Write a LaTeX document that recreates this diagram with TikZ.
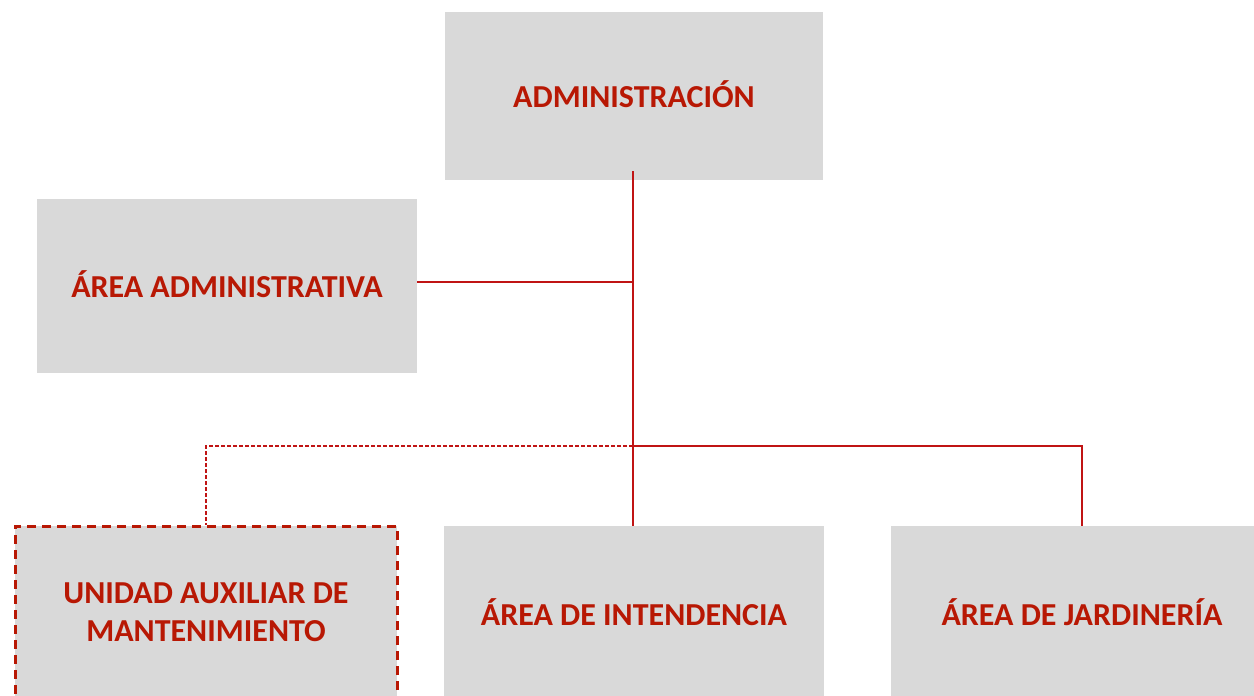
\documentclass[tikz,border=0pt]{standalone}
\usepackage{fontspec}
\setmainfont{Carlito}
\definecolor{boxgray}{RGB}{217,217,217}
\definecolor{darkred}{RGB}{184,24,4}
\definecolor{linered}{RGB}{192,20,20}
\begin{document}
\begin{tikzpicture}[x=1pt,y=-1pt,
  box/.style={fill=boxgray, draw=none, inner sep=0pt, align=center,
    text=darkred, font=\fontsize{32}{38}\selectfont\bfseries},
  conn/.style={draw=linered, line width=1.5pt},
  dconn/.style={draw=linered, line width=1.3pt, dash pattern=on 4pt off 2pt},
  dbox/.style={draw=darkred, line width=3pt, dash pattern=on 9pt off 6pt}]
\useasboundingbox (0,0) rectangle (1254,696);
\node[box, text depth=4pt, minimum width=378pt, minimum height=168pt] (admin) at (634,96) {ADMINISTRACIÓN};
\node[box, text depth=4pt, minimum width=380pt, minimum height=174pt] (area) at (227,286) {ÁREA ADMINISTRATIVA};
\node[box, dbox, minimum width=382pt, minimum height=172pt] (unidad) at (206,612) {UNIDAD AUXILIAR DE\\MANTENIMIENTO};
\node[box, minimum width=380pt, minimum height=172pt] (inten) at (634,612) {ÁREA DE INTENDENCIA};
\node[box, minimum width=382pt, minimum height=172pt] (jard) at (1082,612) {ÁREA DE JARDINERÍA};
\coordinate (top) at (633,171);
\coordinate (j1) at (633,282);
\coordinate (j2) at (633,446);
\draw[conn] (top) -- (top |- inten.north);
\draw[conn] (area.east |- j1) -- (j1);
\draw[conn] (j2) -- (j2 -| jard.north) -- (jard.north);
\draw[dconn] (j2) -- (j2 -| unidad.north) -- (unidad.north);
\end{tikzpicture}
\end{document}
